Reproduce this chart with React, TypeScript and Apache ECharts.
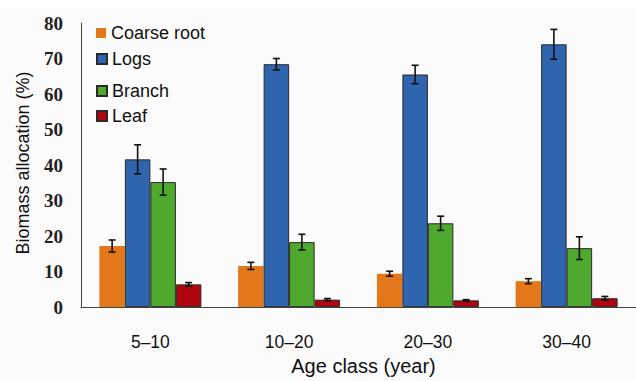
import React, { useEffect, useRef } from "react";
import * as echarts from "echarts";

const categories = ["5–10", "10–20", "20–30", "30–40"];
const seriesNames = ["Coarse root", "Logs", "Branch", "Leaf"];
const coarseRoot = [17.2, 11.6, 9.4, 7.3];
const coarseRootErr = [1.7, 1.0, 0.7, 0.7];
const logs = [41.6, 68.4, 65.5, 74.0];
const logsErr = [4.1, 1.6, 2.6, 4.2];
const branch = [35.2, 18.3, 23.6, 16.6];
const branchErr = [3.7, 2.2, 2.0, 3.2];
const leaf = [6.4, 2.1, 1.9, 2.5];
const leafErr = [0.5, 0.3, 0.2, 0.5];
const yTicks = [0, 10, 20, 30, 40, 50, 60, 70, 80];

const values = [coarseRoot, logs, branch, leaf];
const errors = [coarseRootErr, logsErr, branchErr, leafErr];
const colors = ["#E2781A", "#2F64AE", "#4FA92F", "#B0050F"];
const borderWidths = [0, 1, 1, 1];
const legendTops = [24, 50, 82, 107];
const BAR_W = 25.5;

export default function App() {
  const ref = useRef<HTMLDivElement>(null);
  useEffect(() => {
    if (!ref.current) return;
    const chart = echarts.init(ref.current, null, { renderer: "svg", width: 636, height: 381 });

    const barSeries = seriesNames.map((name, i) => ({
      name,
      type: "bar",
      data: values[i],
      barWidth: BAR_W,
      barGap: "0%",
      itemStyle: {
        color: colors[i],
        borderColor: "#2a2a2a",
        borderWidth: borderWidths[i],
      },
      z: 2,
    }));

    const errSeries = seriesNames.map((name, i) => ({
      name: name + " error",
      type: "custom",
      data: values[i].map((v, k) => [k, v - errors[i][k], v + errors[i][k]]),
      encode: { x: 0, y: [1, 2] },
      z: 5,
      silent: true,
      renderItem: (params: any, api: any) => {
        const cat = api.value(0);
        const lo = api.coord([cat, api.value(1)]);
        const hi = api.coord([cat, api.value(2)]);
        const x = lo[0] + (i - 1.5) * BAR_W;
        const cap = 3.5;
        const st = { stroke: "#111", lineWidth: 1.6 };
        return {
          type: "group",
          children: [
            { type: "line", shape: { x1: x, y1: lo[1], x2: x, y2: hi[1] }, style: st },
            { type: "line", shape: { x1: x - cap, y1: lo[1], x2: x + cap, y2: lo[1] }, style: st },
            { type: "line", shape: { x1: x - cap, y1: hi[1], x2: x + cap, y2: hi[1] }, style: st },
          ],
        };
      },
    }));

    chart.setOption({
      animation: false,
      backgroundColor: "#fbfbfb",
      graphic: [
        { type: "rect", left: 0, top: 0, shape: { width: 636, height: 8 }, style: { fill: "#ffffff" }, z: -10 },
      ],
      legend: seriesNames.map((name, i) => ({
        data: [name],
        left: 96,
        top: legendTops[i],
        padding: 0,
        itemWidth: 10,
        itemHeight: 10,
        icon: "rect",
        selectedMode: false,
        textStyle: { fontFamily: "Liberation Sans, Arial, sans-serif", fontSize: 18, color: "#111" },
      })),
      grid: { left: 81, top: 23, width: 559, height: 292 },
      xAxis: {
        type: "category",
        data: categories,
        name: "Age class (year)",
        nameLocation: "middle",
        nameGap: 44,
        nameTextStyle: {
          fontFamily: "Liberation Sans, Arial, sans-serif",
          fontSize: 20,
          color: "#111",
          padding: [0, 0, 0, 10],
        },
        axisTick: { show: false },
        axisLine: { lineStyle: { color: "#444", width: 1 } },
        axisLabel: {
          fontFamily: "Liberation Sans, Arial, sans-serif",
          fontSize: 17.5,
          color: "#111",
          margin: 26,
        },
      },
      yAxis: {
        type: "value",
        min: yTicks[0],
        max: yTicks[yTicks.length - 1],
        interval: 10,
        name: "Biomass allocation (%)",
        nameLocation: "middle",
        nameGap: 49,
        nameTextStyle: {
          fontFamily: "Liberation Sans, Arial, sans-serif",
          fontSize: 18,
          color: "#111",
          padding: [0, 0, 0, 4],
        },
        axisLine: { show: true, lineStyle: { color: "#444", width: 1 } },
        axisTick: { show: false },
        splitLine: { show: false },
        axisLabel: {
          fontFamily: "Liberation Serif, Times New Roman, serif",
          fontWeight: "bold",
          fontSize: 19,
          color: "#222",
          margin: 18,
        },
      },
      series: [...barSeries, ...errSeries],
    });
    return () => chart.dispose();
  }, []);
  return (
    <div
      ref={ref}
      style={{ position: "absolute", left: 0, top: 0, width: 636, height: 381 }}
    />
  );
}
